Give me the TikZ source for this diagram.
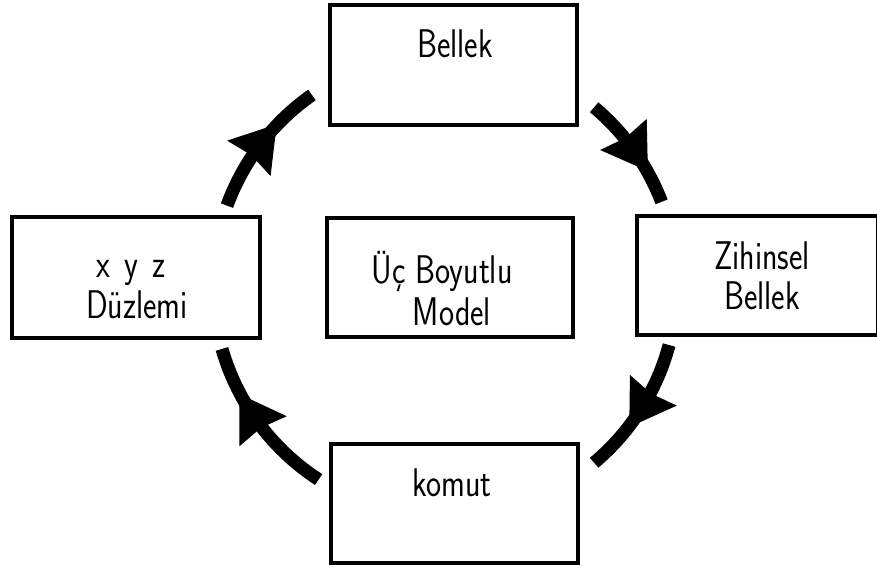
\documentclass[tikz,border=0pt]{standalone}
\usetikzlibrary{decorations.markings,calc}
\newcommand\narrowtxt[1]{\scalebox{0.8}[1]{#1}}
\begin{document}
\begin{tikzpicture}[x=1pt,y=1pt,
  box/.style={draw, line width=4pt, inner sep=0pt, fill=none},
  lbl/.style={anchor=base, inner sep=0pt, font=\fontsize{40}{48}\selectfont\sffamily},
  flow/.style={line width=13pt, postaction={decorate}},
  headat/.style={decoration={markings, mark=at position #1 with {\fill (18pt,0pt) -- (-26pt,28pt) -- (-22pt,0pt) -- (-26pt,-28pt) -- cycle;}}}]
\useasboundingbox (0,0) rectangle (877,572);
% boxes
\node[box, minimum width=247pt, minimum height=120pt] (bellek) at (453.5,507) {};
\node[box, minimum width=248pt, minimum height=121pt] (xyz) at (136,294.5) {};
\node[box, minimum width=246pt, minimum height=119pt] (model) at (450,294.5) {};
\node[box, minimum width=241pt, minimum height=119pt] (zih) at (757.5,296.5) {};
\node[box, minimum width=247pt, minimum height=119pt] (komut) at (454.5,68.5) {};
% texts
\node[lbl] (tbellek) at (455,514) {\narrowtxt{Bellek}};
\node[lbl] (txyz1) at (131,294) {\narrowtxt{x\hspace{0.45em}y\hspace{0.45em}z}};
\node[lbl] (txyz2) at (137,253) {\narrowtxt{Düzlemi}};
\node[lbl] (tmod1) at (442,288) {\narrowtxt{Üç Boyutlu}};
\node[lbl] (tmod2) at (452,246) {\narrowtxt{Model}};
\node[lbl] (tzih1) at (762,302) {\narrowtxt{Zihinsel}};
\node[lbl] (tzih2) at (762,262) {\narrowtxt{Bellek}};
\node[lbl] (tkomut) at (452,75) {\narrowtxt{komut}};
% cycle arcs
\coordinate (c) at (445,287);
\draw[flow, headat=0.55] ($(c)+(160:232)$) arc[start angle=160, end angle=125, radius=232];
\draw[flow, headat=0.56] ($(c)+(50:232)$) arc[start angle=50, end angle=21, radius=232];
\draw[flow, headat=0.52] ($(c)+(-15:232)$) arc[start angle=-15, end angle=-50, radius=232];
\draw[flow, headat=0.60] ($(c)+(237:232)$) arc[start angle=237, end angle=196, radius=232];
\end{tikzpicture}
\end{document}
